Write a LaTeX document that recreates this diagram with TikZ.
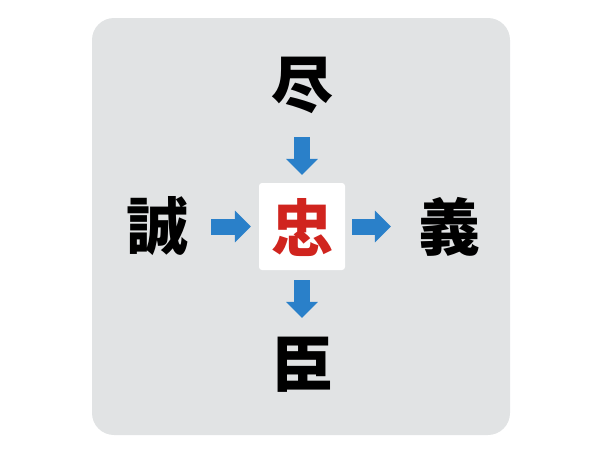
\documentclass[tikz,border=0pt]{standalone}
\usepackage{fontspec}
\usepackage{tikz}
\usetikzlibrary{arrows.meta}
\newfontfamily\cjk{Noto Sans CJK JP}[BoldFont={Noto Sans CJK JP Black}]
\definecolor{panelgray}{HTML}{E1E3E4}
\definecolor{arrowblue}{HTML}{2A80C9}
\definecolor{kanjired}{HTML}{D0241E}
\tikzset{
    kanji/.style = {inner sep=0pt, minimum width=64pt, minimum height=64pt, font=\cjk\bfseries\fontsize{62}{62}\selectfont},
    centre-box/.style = {fill=white, rounded corners=3pt, minimum width=86pt, minimum height=87pt, inner sep=0pt},
    fat-arrow/.style = {draw=arrowblue, line width=16pt, -{Triangle[width=31pt,length=16pt]}},
}
\begin{document}
\begin{tikzpicture}[x=1pt, y=-1pt]
\useasboundingbox (0,0) rectangle (600,450);
\fill[panelgray, rounded corners=22pt] (92,18) rectangle (510,435);
\node[centre-box] (box) at (302,226.5) {};
\node[kanji, text=kanjired] (chu) at (302,228) {忠};
\node[kanji] (jin) at (302,85) {尽};
\node[kanji] (sei) at (157,226.5) {誠};
\node[kanji] (gi) at (449,226.5) {義};
\node[kanji] (shin) at (302,365) {臣};
% arrows into and out of the box
\draw[fat-arrow, shorten <=20pt, shorten >=8pt] (jin.south) -- (box.north);
\draw[fat-arrow, shorten <=22pt, shorten >=8pt] (sei.east) -- (box.west);
\draw[fat-arrow, shorten <=7pt, shorten >=26pt] (box.east) -- (gi.west);
\draw[fat-arrow, shorten <=10pt, shorten >=15pt] (box.south) -- (shin.north);
\end{tikzpicture}
\end{document}
